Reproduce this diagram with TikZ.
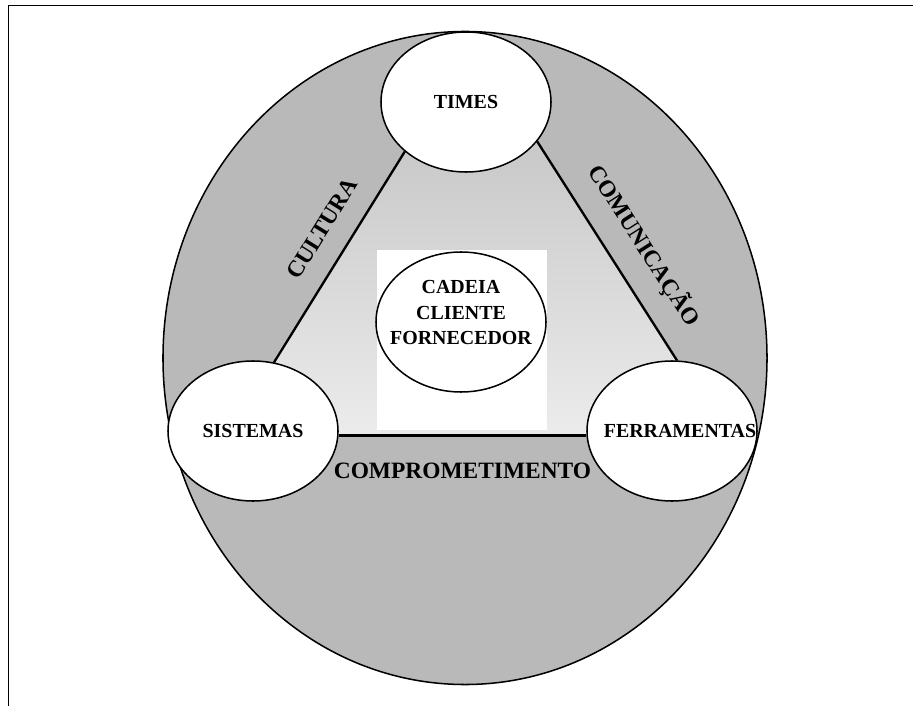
\documentclass[tikz,border=0pt]{standalone}
\usepackage{fontspec}
\setmainfont{Liberation Serif}
\usetikzlibrary{shapes.geometric, positioning}

\begin{document}
\begin{tikzpicture}[
  x=0.03cm, y=-0.03cm,
  circ/.style={
    ellipse, draw, fill=white, line width=1.3pt,
    minimum width=5.1cm, minimum height=4.2cm, inner sep=0pt,
  },
  word/.style={font=\fontsize{17}{22}\selectfont\bfseries, align=center, inner sep=2pt},
  side/.style={line width=2pt},
  sidetext/.style={font=\fontsize{20}{24}\selectfont\bfseries, sloped, inner sep=2pt},
]
\useasboundingbox (0,0) rectangle (913,706);

% Frame
\draw[line width=0.8pt] (8,706) -- (8,5) -- (913,5);

% Outer ring and inner area
\node[ellipse, draw, line width=1.3pt, fill=gray!55,
  minimum width=18.12cm, minimum height=19.59cm] (ring) at (465,358) {};
\shade[top color=gray!45, bottom color=gray!15]
  (405,152) -- (275,358) -- (300,436) -- (620,436) -- (677,359) -- (538,142) -- (466,120) -- cycle;
\fill[white] (377,250) rectangle (547,430);

% Circles
\node[circ] (cadeia) at (461,322) {};
\node[circ] (times) at (466,102) {};
\node[circ] (sistemas) at (253,431) {};
\node[circ] (ferramentas) at (672,431) {};

% Triangle sides
\draw[side] (sistemas.73) -- node[pos=0.56, sidetext, above=0.55cm] (cultura) {CULTURA} (times.219);
\draw[side] (times.331) -- node[pos=0.56, sidetext, above=0.55cm] (comunicacao) {COMUNICAÇÃO} (ferramentas.86);
\draw[side, line width=2.4pt] (sistemas.-3) -- node[sidetext, below=0.7cm] (compromisso) {COMPROMETIMENTO} (ferramentas.183);

% Texts
\node[word] (timestext) at (times) {TIMES};
\node[word] (sistemastext) at (sistemas) {SISTEMAS};
\node[word] (ferramentastext) at ([xshift=0.24cm]ferramentas) {FERRAMENTAS};
\node[word] (cadeiatext) at ([yshift=0.28cm]cadeia) {CADEIA\\CLIENTE\\FORNECEDOR};

\end{tikzpicture}
\end{document}
